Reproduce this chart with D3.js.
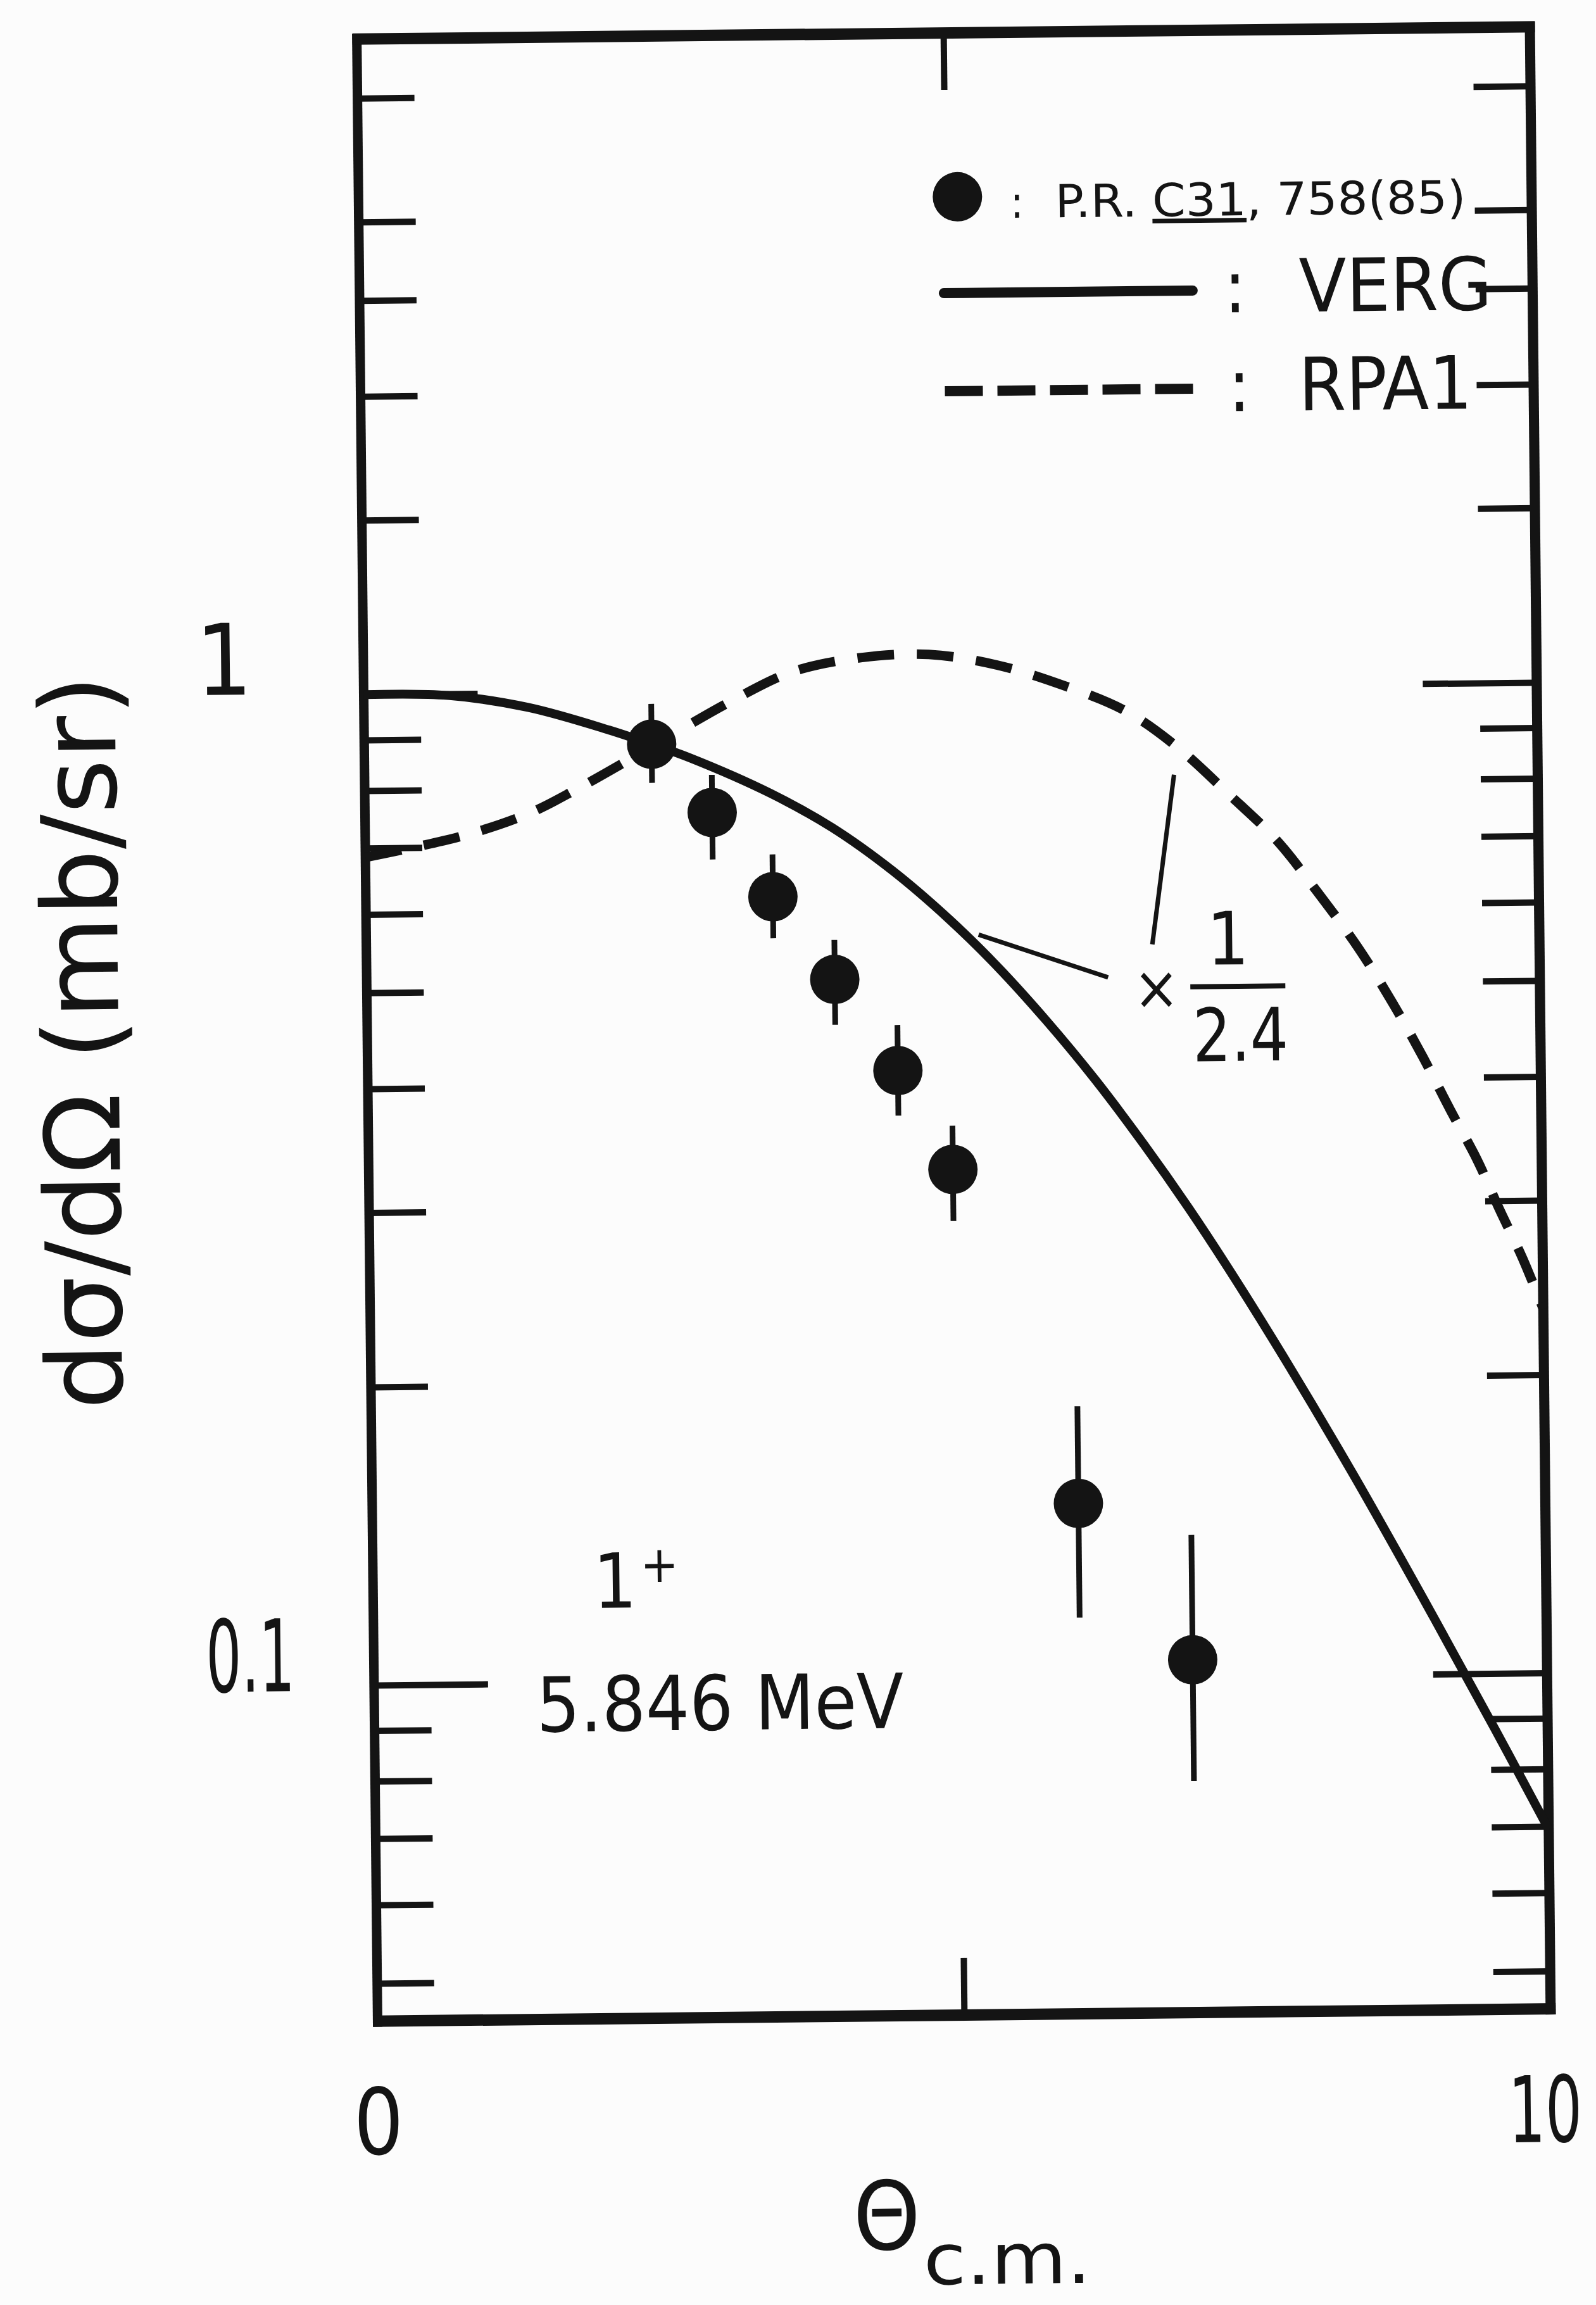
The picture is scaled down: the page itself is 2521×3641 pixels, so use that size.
<!DOCTYPE html>
<html>
<head>
<meta charset="utf-8">
<script src="https://cdn.jsdelivr.net/npm/d3@7"></script>
<style>
  html, body { margin: 0; padding: 0; background: #fcfcfc; }
  svg { display: block; }
  text { font-family: "DejaVu Sans Condensed", "DejaVu Sans", sans-serif; fill: #141414; }
</style>
</head>
<body>
<svg id="chart" width="2521" height="3641"></svg>
<script>
// measured data (P.R. C31, 758 (85)), theta in degrees, cross section in mb/sr
const dataAngle = [2.45, 2.96, 3.47, 3.99, 4.52, 4.98, 6.02, 6.98];
const dataValue = [0.885, 0.754, 0.619, 0.510, 0.412, 0.327, 0.150, 0.104];
const dataLow = [0.809, 0.676, 0.562, 0.459, 0.371, 0.290, 0.115, 0.0785];
const dataHigh = [0.972, 0.823, 0.683, 0.559, 0.458, 0.362, 0.188, 0.139];

// VERG calculation (solid)
const vergAngle = [0, 0.72, 1.4, 2.09, 2.45, 2.78, 3.46, 3.98, 4.49, 4.97, 5.38, 5.79, 6.2, 6.61, 6.98, 7.32, 7.79, 8.37, 9.04, 9.55, 9.93, 10];
const vergValue = [1.0, 0.996, 0.967, 0.9155, 0.885, 0.856, 0.787, 0.726, 0.656, 0.585, 0.523, 0.461, 0.4016, 0.345, 0.298, 0.258, 0.209, 0.159, 0.114, 0.0879, 0.0721, 0.0695];

// RPA1 calculation (dashed, already scaled by 1/2.4)
const rpaAngle = [0, 0.84, 1.4, 1.81, 2.45, 3.13, 3.66, 4.25, 4.82, 5.4, 5.97, 6.5, 6.93, 7.36, 7.77, 8.11, 8.45, 8.74, 9.0, 9.23, 9.45, 9.63, 9.83, 10];
const rpaValue = [0.685, 0.719, 0.756, 0.799, 0.88, 0.976, 1.044, 1.077, 1.083, 1.055, 1.004, 0.944, 0.868, 0.778, 0.697, 0.618, 0.543, 0.477, 0.419, 0.37, 0.33, 0.295, 0.262, 0.233];

// axis ticks
const xDomain = [0, 10];
const yDomain = [0.0458, 4.59];
const xTickLabels = [0, 10];
const yMinorTicks = [0.05, 0.06, 0.07, 0.08, 0.09, 0.2, 0.3, 0.4, 0.5, 0.6, 0.7, 0.8, 0.9, 1.5, 2, 2.5, 3, 4];
const yMajorTicks = [0.1, 1];

const ink = "#141414";

const svg = d3.select("#chart");
svg.append("rect").attr("width", 2521).attr("height", 3641).attr("fill", "#fcfcfc");

// the scanned figure sits slightly tilted
const g = svg.append("g").attr("transform", "rotate(-0.6, 1506, 1618)");

const x = d3.scaleLinear().domain(xDomain).range([580, 2433]);
const y = d3.scaleLog().domain(yDomain).range([3183, 52]);

// ticks on the four sides
function ticks(axisGen, scale, values, size, tx, ty) {
  const a = g.append("g")
    .attr("transform", `translate(${tx},${ty})`)
    .call(axisGen(scale).tickValues(values).tickSize(size).tickSizeOuter(0).tickFormat(""));
  a.select(".domain").remove();
  a.selectAll(".tick line").attr("stroke", ink).attr("stroke-width", 10);
}
ticks(d3.axisLeft, y, yMinorTicks, -90, x(0), 0);
ticks(d3.axisLeft, y, yMajorTicks, -180, x(0), 0);
ticks(d3.axisRight, y, yMinorTicks, -90, x(10), 0);
ticks(d3.axisRight, y, yMajorTicks, -180, x(10), 0);
ticks(d3.axisTop, x, [5], -90, 0, y.range()[1]);
ticks(d3.axisBottom, x, [5], -90, 0, y.range()[0]);

// frame
const [y0, y1] = y.range();
g.append("line").attr("x1", x(0)).attr("x2", x(0)).attr("y1", y1 - 8).attr("y2", y0 + 9)
  .attr("stroke", ink).attr("stroke-width", 15);
g.append("line").attr("x1", x(10)).attr("x2", x(10)).attr("y1", y1 - 8).attr("y2", y0 + 9)
  .attr("stroke", ink).attr("stroke-width", 16);
g.append("line").attr("x1", x(0) - 7).attr("x2", x(10) + 8).attr("y1", y1).attr("y2", y1)
  .attr("stroke", ink).attr("stroke-width", 18);
g.append("line").attr("x1", x(0) - 7).attr("x2", x(10) + 8).attr("y1", y0).attr("y2", y0)
  .attr("stroke", ink).attr("stroke-width", 18);

// curves
const line = d3.line()
  .x((d) => x(d[0]))
  .y((d) => y(d[1]))
  .curve(d3.curveCatmullRom.alpha(0.5));

g.append("path")
  .attr("d", line(vergAngle.map((a, i) => [a, vergValue[i]])))
  .attr("fill", "none").attr("stroke", ink).attr("stroke-width", 14);

g.append("path")
  .attr("d", line(rpaAngle.map((a, i) => [a, rpaValue[i]])))
  .attr("fill", "none").attr("stroke", ink).attr("stroke-width", 15)
  .attr("stroke-dasharray", "58,36");

// data points with error bars
const pts = dataAngle.map((a, i) => ({ a, v: dataValue[i], lo: dataLow[i], hi: dataHigh[i] }));
g.selectAll(".err").data(pts).enter().append("line")
  .attr("class", "err")
  .attr("x1", (d) => x(d.a)).attr("x2", (d) => x(d.a))
  .attr("y1", (d) => y(d.lo)).attr("y2", (d) => y(d.hi))
  .attr("stroke", ink).attr("stroke-width", 9);
g.selectAll(".pt").data(pts).enter().append("circle")
  .attr("class", "pt")
  .attr("cx", (d) => x(d.a)).attr("cy", (d) => y(d.v))
  .attr("r", 39).attr("fill", ink);

// scale factor annotation
const pointers = [
  [[5.22, 0.564], [6.32, 0.509]],
  [[6.9, 0.814], [6.7, 0.549]],
];
g.selectAll(".ptr").data(pointers).enter().append("line")
  .attr("class", "ptr")
  .attr("x1", (d) => x(d[0][0])).attr("y1", (d) => y(d[0][1]))
  .attr("x2", (d) => x(d[1][0])).attr("y2", (d) => y(d[1][1]))
  .attr("stroke", ink).attr("stroke-width", 7);
g.append("text").attr("x", x(6.73)).attr("y", y(0.496))
  .attr("text-anchor", "middle").attr("dominant-baseline", "central")
  .attr("font-size", 96).text("×");
g.append("line").attr("x1", x(7.02)).attr("x2", x(7.83)).attr("y1", y(0.497)).attr("y2", y(0.497))
  .attr("stroke", ink).attr("stroke-width", 8);
g.append("text").attr("x", x(7.345)).attr("y", y(0.523))
  .attr("text-anchor", "middle").attr("font-size", 116).text("1");
g.append("text").attr("x", x(7.444)).attr("y", y(0.418))
  .attr("text-anchor", "middle").attr("font-size", 116)
  .attr("textLength", 151).attr("lengthAdjust", "spacingAndGlyphs").text("2.4");

// state label
const state = g.append("text").attr("x", x(1.878)).attr("y", y(0.119)).attr("font-size", 120);
state.append("tspan").text("1");
state.append("tspan").attr("dy", -40).attr("dx", 6).attr("font-size", 80).text("+");
g.append("text").attr("x", x(1.382)).attr("y", y(0.0894)).attr("font-size", 120)
  .attr("textLength", 580).attr("lengthAdjust", "spacingAndGlyphs").text("5.846 MeV");

// tick labels
g.append("text").attr("x", 360).attr("y", y(1) - 2).attr("text-anchor", "middle")
  .attr("font-family", "DejaVu Sans").attr("font-size", 156).text("1");
g.append("text").attr("x", 385).attr("y", y(0.1) + 8).attr("text-anchor", "middle")
  .attr("font-size", 158).attr("textLength", 140).attr("lengthAdjust", "spacingAndGlyphs").text("0.1");
// x labels: narrowed by a horizontal scale so the glyph box stays inside the page
g.selectAll(".xlab").data(xTickLabels).enter().append("text")
  .attr("class", "xlab")
  .attr("transform", (d) => `translate(${x(d) - (d === 10 ? 10 : 0)},3393) scale(${d === 10 ? 0.7 : 0.95},1)`)
  .attr("text-anchor", "middle").attr("font-size", 145)
  .text((d) => d);

// axis titles
const xt = g.append("text").attr("x", 1328).attr("y", 3552).attr("font-size", 150);
xt.append("tspan").text("Θ");
xt.append("tspan").attr("dy", 56).attr("dx", 4).attr("font-size", 112)
  .attr("textLength", 265).attr("lengthAdjust", "spacingAndGlyphs").text("c.m.");

g.append("text")
  .attr("transform", "translate(187,1632) rotate(-90)")
  .attr("text-anchor", "middle").attr("font-size", 165)
  .attr("textLength", 1161).attr("lengthAdjust", "spacingAndGlyphs")
  .text("dσ/dΩ  (mb/sr)");

// legend
g.append("circle").attr("cx", 1526).attr("cy", 311).attr("r", 39).attr("fill", ink);
g.append("text").attr("x", 1620).attr("y", 345).attr("text-anchor", "middle").attr("font-size", 70).text(":");
const ref = g.append("text").attr("x", 1680).attr("y", 345).attr("font-size", 72)
  .attr("textLength", 649).attr("lengthAdjust", "spacingAndGlyphs");
ref.append("tspan").text("P.R. ");
ref.append("tspan").style("text-decoration", "underline").text("C31");
ref.append("tspan").text(", 758(85)");

g.append("line").attr("x1", 1503).attr("x2", 1896).attr("y1", 463).attr("y2", 463)
  .attr("stroke", ink).attr("stroke-width", 16).attr("stroke-linecap", "round");
g.append("text").attr("x", 1963).attr("y", 498).attr("text-anchor", "middle").attr("font-size", 116).text(":");
g.append("text").attr("x", 2064).attr("y", 498).attr("font-size", 116)
  .attr("textLength", 305).attr("lengthAdjust", "spacingAndGlyphs").text("VERG");

g.append("line").attr("x1", 1503).attr("x2", 1896).attr("y1", 618).attr("y2", 618)
  .attr("stroke", ink).attr("stroke-width", 16).attr("stroke-dasharray", "60,23");
g.append("text").attr("x", 1968).attr("y", 654).attr("text-anchor", "middle").attr("font-size", 116).text(":");
g.append("text").attr("x", 2062).attr("y", 654).attr("font-size", 116)
  .attr("textLength", 274).attr("lengthAdjust", "spacingAndGlyphs").text("RPA1");
</script>
</body>
</html>
